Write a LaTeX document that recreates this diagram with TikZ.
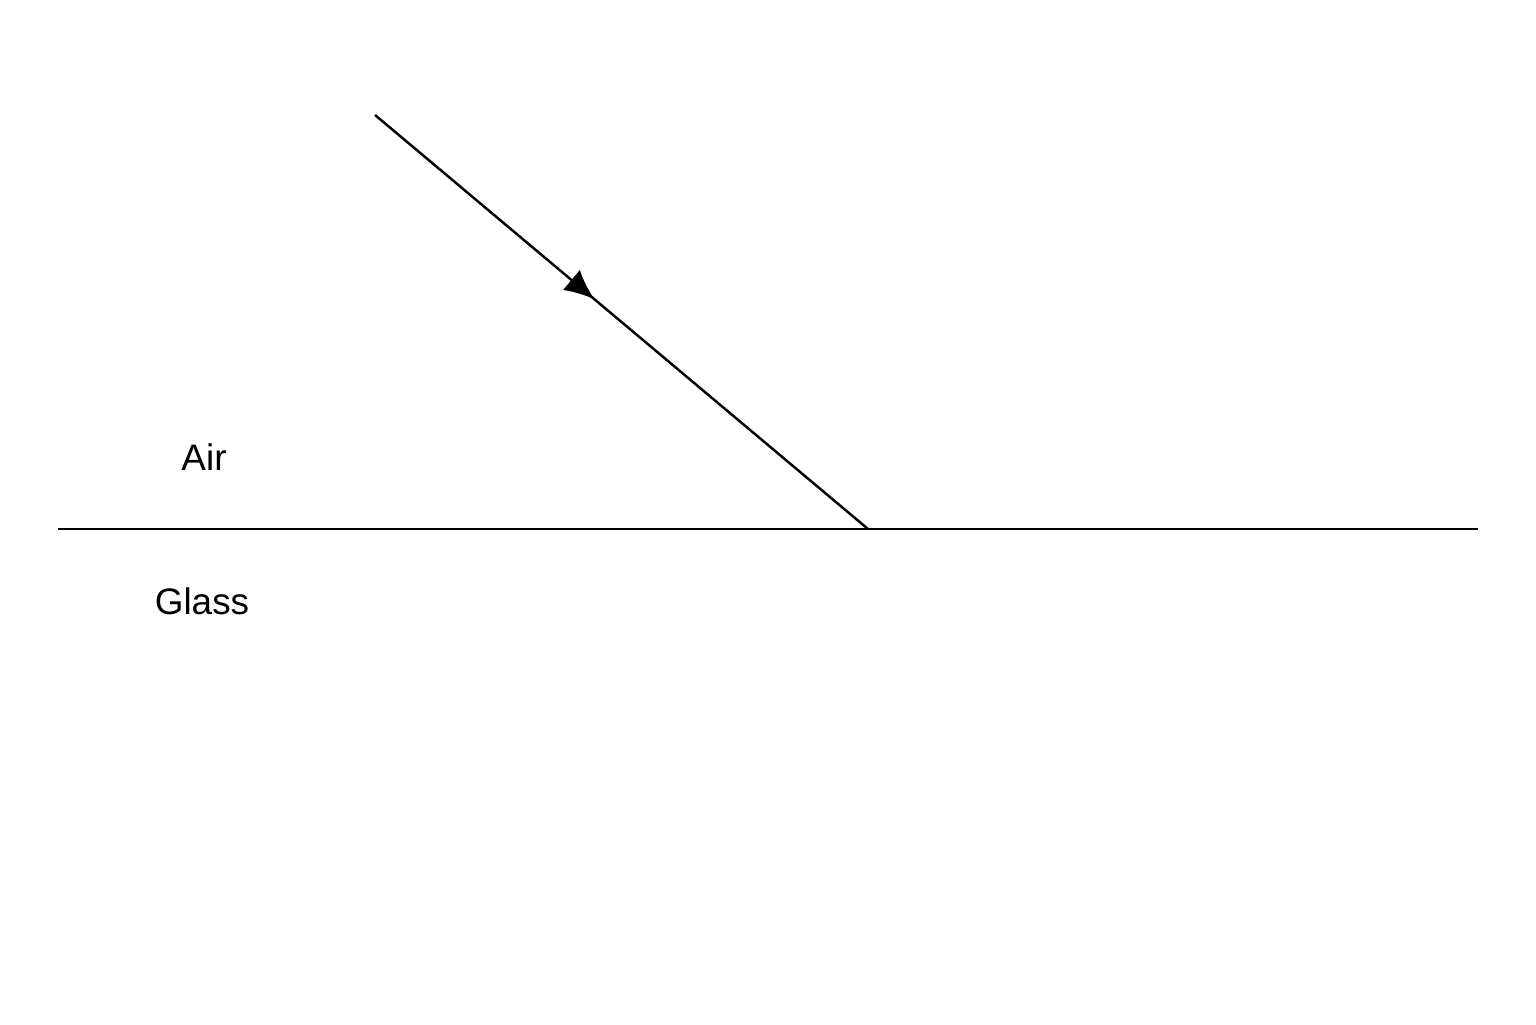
\documentclass[tikz,border=0pt]{standalone}
\usepackage{fontspec}
\setmainfont{Liberation Sans}
\usetikzlibrary{arrows.meta,decorations.markings}
\begin{document}
\begin{tikzpicture}[inner sep=0pt,outer sep=0pt,line width=0.7pt,
medlabel/.style={font=\fontsize{10.5}{12}\selectfont},
midarrow/.style={postaction={decorate},decoration={markings,
  mark=at position 0.445 with {\arrow{Latex[length=8.5pt,width=7.5pt]}}}}]
\useasboundingbox (0,0) rectangle (15.36,10.24);
\coordinate (left) at (0.58,4.95);
\coordinate (right) at (14.78,4.95);
\coordinate (src) at (3.75,9.09);
\coordinate (hit) at (8.68,4.95);
\draw (left) -- (right);
\draw[midarrow] (src) -- (hit);
\node[medlabel] (air) at (2.04,5.67) {Air};
\node[medlabel] (glass) at (2.02,4.23) {Glass};
\end{tikzpicture}
\end{document}
